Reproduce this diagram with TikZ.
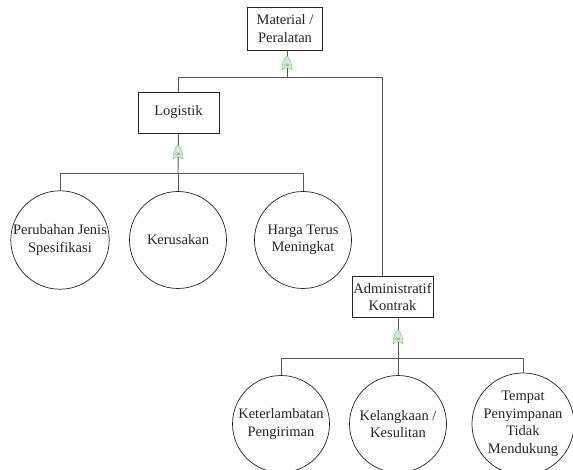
\documentclass[tikz,border=0pt]{standalone}
\usepackage{fontspec}
\setmainfont{Liberation Serif}
\begin{document}
\begin{tikzpicture}[x=1pt,y=-1pt,
  every node/.style={font=\fontsize{14.5}{17.5}\selectfont, text=black!85},
  eventbox/.style={draw=black!85, line width=0.7pt, fill=white, align=center, inner sep=0pt},
  basic/.style={draw=black!85, line width=0.7pt, circle, minimum size=97pt, inner sep=0pt, align=center},
  link/.style={draw=black!65, line width=0.9pt},
  orgate/.pic={
    \path[fill=green!40!gray!25, draw=green!20!gray!80, line width=0.4pt]
      (-5,7) .. controls (-5,0) and (-3,-4) .. (0,-7)
      .. controls (3,-4) and (5,0) .. (5,7)
      .. controls (2,4) and (-2,4) .. (-5,7) -- cycle;
    \node[font=\fontsize{3.5}{4}\selectfont, text=black!60, inner sep=0pt] at (0,2) {OR};
  }]
\useasboundingbox (0,0) rectangle (573,470);
\fill[white] (0,0) rectangle (573,470);

% top event
\node[eventbox, minimum width=75pt, minimum height=43pt] (mat) at (285,28.5) {Material /\\Peralatan};
% intermediate events
\node[eventbox, minimum width=81pt, minimum height=41pt] (log) at (178.5,112.5) {Logistik};
\node[eventbox, minimum width=81pt, minimum height=41pt] (adm) at (392.5,297) {Administratif\\Kontrak};

% basic events
\node[basic] (b1) at (60,240) {Perubahan Jenis\\Spesifikasi};
\node[basic] (b2) at (178,240) {Kerusakan};
\node[basic] (b3) at (303,240) {Harga Terus\\Meningkat};
\node[basic] (c1) at (281,424) {Keterlambatan\\Pengiriman};
\node[basic] (c2) at (398,424) {Kelangkaan /\\Kesulitan};
\node[basic] (c3) at (523,424) {Tempat\\Penyimpanan\\Tidak\\Mendukung};

% junction points of the branch lines
\coordinate (j0) at (287,77);
\coordinate (jl) at (178,77);
\coordinate (jr) at (382,77);
\coordinate (k0) at (178,173);
\coordinate (m0) at (398,358);

% level 1
\draw[link] ([xshift=2pt]mat.south) -- (j0);
\draw[link] (jl) -- (jr);
\draw[link] (jl) -- (jl |- log.north);
\draw[link] (jr) -- (jr |- adm.north);
% level 2: Logistik
\draw[link] (log.south) -- (k0);
\draw[link] (b1.north |- k0) -- (b3.north |- k0);
\draw[link] (b1.north |- k0) -- (b1.north);
\draw[link] (k0) -- (b2.north);
\draw[link] (b3.north |- k0) -- (b3.north);
% level 2: Administratif Kontrak
\draw[link] ([xshift=5.5pt]adm.south) -- (m0);
\draw[link] (c1.north |- m0) -- (c3.north |- m0);
\draw[link] (c1.north |- m0) -- (c1.north);
\draw[link] (m0) -- (c2.north);
\draw[link] (c3.north |- m0) -- (c3.north);

% OR gates on the stems
\pic at (287,63) {orgate};
\pic at (178,152) {orgate};
\pic at (398,337) {orgate};
\end{tikzpicture}
\end{document}
